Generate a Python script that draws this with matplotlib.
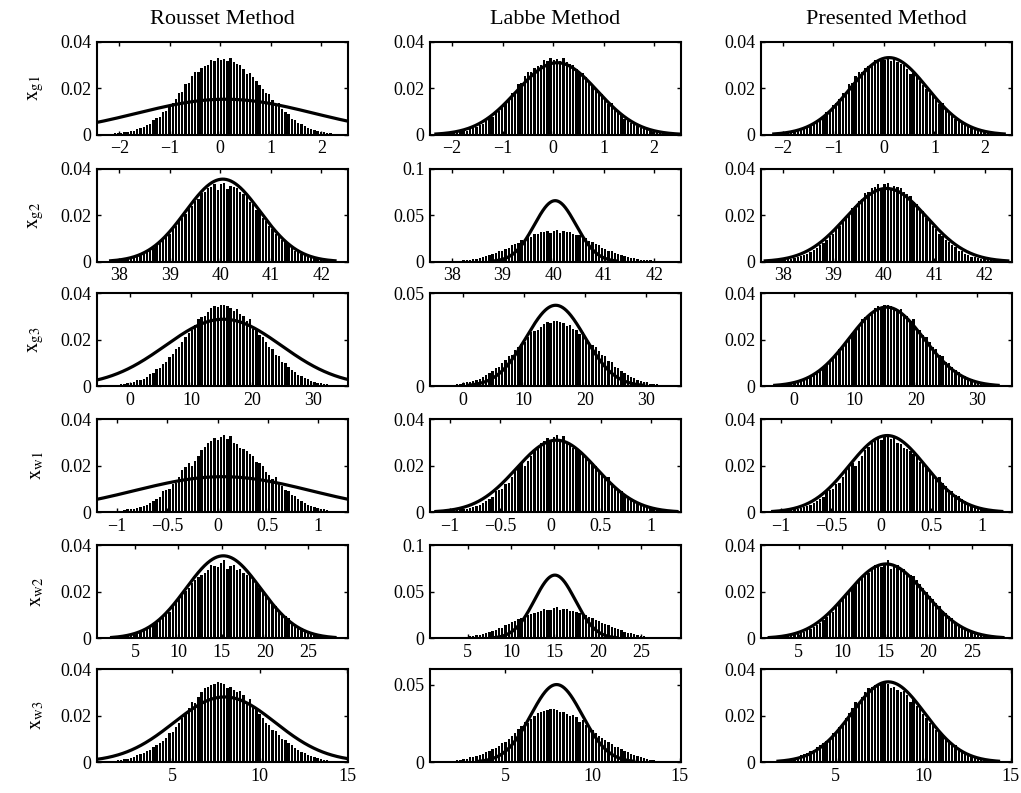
import numpy as np
import matplotlib
matplotlib.use("Agg")
import matplotlib.pyplot as plt

plt.rcParams['font.family'] = ['Liberation Serif', 'DejaVu Serif']
plt.rcParams['mathtext.fontset'] = 'stix'

methods = ["Rousset Method", "Labbe Method", "Presented Method"]
var_labels = [r'$\mathrm{x}_{\mathrm{g1}}$', r'$\mathrm{x}_{\mathrm{g2}}$', r'$\mathrm{x}_{\mathrm{g3}}$',
              r'$\mathrm{x}_{\mathrm{w1}}$', r'$\mathrm{x}_{\mathrm{w2}}$', r'$\mathrm{x}_{\mathrm{w3}}$']

# histogram range of every variable
x_ranges = [(-2.44, 2.53), (37.56, 42.53), (-5.41, 35.74), (-1.20, 1.30), (0.61, 29.62), (0.71, 15.06)]
x_ticks = [[-2, -1, 0, 1, 2], [38, 39, 40, 41, 42], [0, 10, 20, 30],
           [-1, -0.5, 0, 0.5, 1], [5, 10, 15, 20, 25], [5, 10, 15]]

# histogram heights (x 1e-4), 78 bins each
hist_g1 = [1, 2, 3, 3, 4, 6, 7, 9, 11, 14, 16, 18, 25, 28, 34, 44, 47, 63, 72, 78,
           100, 104, 130, 136, 152, 180, 185, 218, 222, 253, 270, 272, 288, 295, 300, 320, 316, 331, 320,
           327, 318, 330, 312, 305, 299, 284, 260, 266, 248, 230, 213, 196, 180, 177, 150, 133, 138, 110, 96,
           88, 70, 64, 50, 46, 38, 30, 27, 21, 18, 14, 11, 9, 7, 5, 4, 3, 2, 1]
hist_g2 = [1, 1, 2, 3, 4, 5, 7, 8, 11, 12, 17, 20, 23, 30, 34, 43, 52, 58, 72, 80,
           95, 110, 118, 140, 152, 176, 186, 205, 230, 240, 262, 270, 296, 300, 318, 320, 334, 310, 335,
           340, 313, 326, 320, 316, 300, 290, 282, 258, 250, 224, 216, 188, 176, 152, 140, 120, 112, 92, 84,
           70, 62, 48, 44, 35, 30, 22, 20, 15, 13, 10, 8, 6, 5, 4, 3, 2, 1, 1]
hist_g3 = [1, 2, 2, 3, 3, 5, 6, 8, 11, 13, 15, 20, 25, 27, 33, 40, 52, 58, 72, 80,
           96, 105, 126, 140, 160, 170, 192, 210, 228, 240, 265, 290, 298, 300, 318, 336, 344, 342, 348,
           350, 346, 338, 324, 330, 310, 300, 282, 290, 248, 240, 220, 210, 188, 170, 160, 136, 128, 104, 98,
           84, 70, 60, 50, 44, 34, 30, 22, 20, 14, 12, 10, 8, 6, 4, 3, 2, 2, 1]
hist_w1 = [1, 1, 2, 2, 3, 4, 5, 7, 10, 12, 14, 13, 18, 22, 26, 30, 42, 50, 58, 64,
           90, 94, 100, 122, 124, 150, 180, 196, 210, 200, 220, 240, 268, 282, 300, 305, 318, 310, 322,
           334, 316, 330, 298, 292, 276, 270, 262, 250, 240, 218, 212, 200, 172, 160, 145, 150, 128, 112, 94,
           90, 74, 68, 56, 48, 42, 32, 28, 22, 18, 14, 12, 9, 7, 5, 3, 2, 2, 1]
hist_w2 = [1, 1, 2, 2, 3, 4, 6, 8, 9, 12, 15, 19, 22, 28, 35, 40, 50, 58, 68, 80,
           92, 110, 115, 140, 150, 172, 190, 205, 215, 240, 250, 262, 272, 280, 296, 314, 310, 306, 325,
           338, 300, 312, 314, 296, 298, 280, 272, 268, 250, 232, 218, 200, 184, 170, 150, 140, 118, 108, 96,
           86, 70, 60, 54, 44, 36, 30, 26, 20, 16, 12, 10, 8, 6, 4, 3, 2, 1, 1]
hist_w3 = [1, 2, 2, 3, 4, 5, 7, 9, 12, 15, 18, 22, 30, 35, 40, 46, 52, 64, 72, 82,
           90, 104, 124, 130, 150, 170, 188, 212, 232, 260, 252, 280, 300, 318, 324, 330, 336, 344, 340,
           336, 320, 322, 312, 300, 306, 290, 260, 270, 240, 232, 205, 190, 170, 158, 140, 132, 118, 100, 96,
           84, 72, 62, 52, 44, 38, 30, 26, 21, 16, 13, 10, 8, 6, 4, 3, 2, 2, 1]
hists = [hist_g1, hist_g2, hist_g3, hist_w1, hist_w2, hist_w3]

# estimated normal curves (mean, std, peak) for Rousset / Labbe / Presented
fit_g1 = [(0.10, 1.75, 0.0153), (0.08, 0.80, 0.0310), (0.10, 0.76, 0.0332)]
fit_g2 = [(40.05, 0.74, 0.0355), (40.04, 0.41, 0.0656), (40.05, 0.80, 0.0315)]
fit_g3 = [(15.3, 9.5, 0.0288), (15.2, 4.8, 0.0435), (15.2, 6.1, 0.0340)]
fit_w1 = [(0.05, 0.88, 0.0153), (0.06, 0.40, 0.0310), (0.06, 0.38, 0.0330)]
fit_w2 = [(15.2, 4.3, 0.0355), (15.05, 2.35, 0.0680), (15.1, 4.5, 0.0320)]
fit_w3 = [(8.0, 2.9, 0.0280), (7.95, 1.47, 0.0500), (8.0, 2.1, 0.0345)]
fits = [fit_g1, fit_g2, fit_g3, fit_w1, fit_w2, fit_w3]

y_tops = [[0.04, 0.04, 0.04], [0.04, 0.1, 0.04], [0.04, 0.05, 0.04],
          [0.04, 0.04, 0.04], [0.04, 0.1, 0.04], [0.04, 0.06, 0.04]]
y_tick_sets = {0.04: ([0, 0.02, 0.04], ['0', '0.02', '0.04']),
               0.1: ([0, 0.05, 0.1], ['0', '0.05', '0.1']),
               0.05: ([0, 0.05], ['0', '0.05']),
               0.06: ([0, 0.05], ['0', '0.05'])}

fig = plt.figure(figsize=(10.21, 7.93), dpi=100)
lefts = [0.095, 0.421, 0.745]
bottoms = [0.830, 0.670, 0.513, 0.354, 0.195, 0.039]
w, h = 0.246, 0.1173

for r in range(6):
    x0, x1 = x_ranges[r]
    vals = np.array(hists[r]) / 1e4
    edges = np.linspace(x0, x1, len(vals) + 1)
    centers = (edges[:-1] + edges[1:]) / 2
    bw = edges[1] - edges[0]
    for c in range(3):
        ax = fig.add_axes([lefts[c], bottoms[r], w, h])
        ax.bar(centers, vals, width=0.72 * bw, color='k', linewidth=0)
        mu, sd, pk = fits[r][c]
        xs = np.linspace(mu - 3 * sd, mu + 3 * sd, 400)
        ax.plot(xs, pk * np.exp(-0.5 * ((xs - mu) / sd) ** 2), color='k', lw=2.3)
        ax.set_xlim(x0, x1)
        ax.set_ylim(0, y_tops[r][c])
        ax.set_xticks(x_ticks[r])
        ax.set_xticklabels([('%g' % t).replace('-', '\u2212') for t in x_ticks[r]])
        yt, yl = y_tick_sets[y_tops[r][c]]
        ax.set_yticks(yt)
        ax.set_yticklabels(yl)
        ax.tick_params(direction='in', top=True, right=True, length=3, width=1,
                       labelsize=13, pad=4)
        for s in ax.spines.values():
            s.set_linewidth(1.5)
        if r == 0:
            ax.set_title(methods[c], fontsize=16, pad=13)
        if c == 0:
            ax.set_ylabel(var_labels[r], fontsize=15, labelpad=10)

fig.savefig("out.png", dpi=100)
